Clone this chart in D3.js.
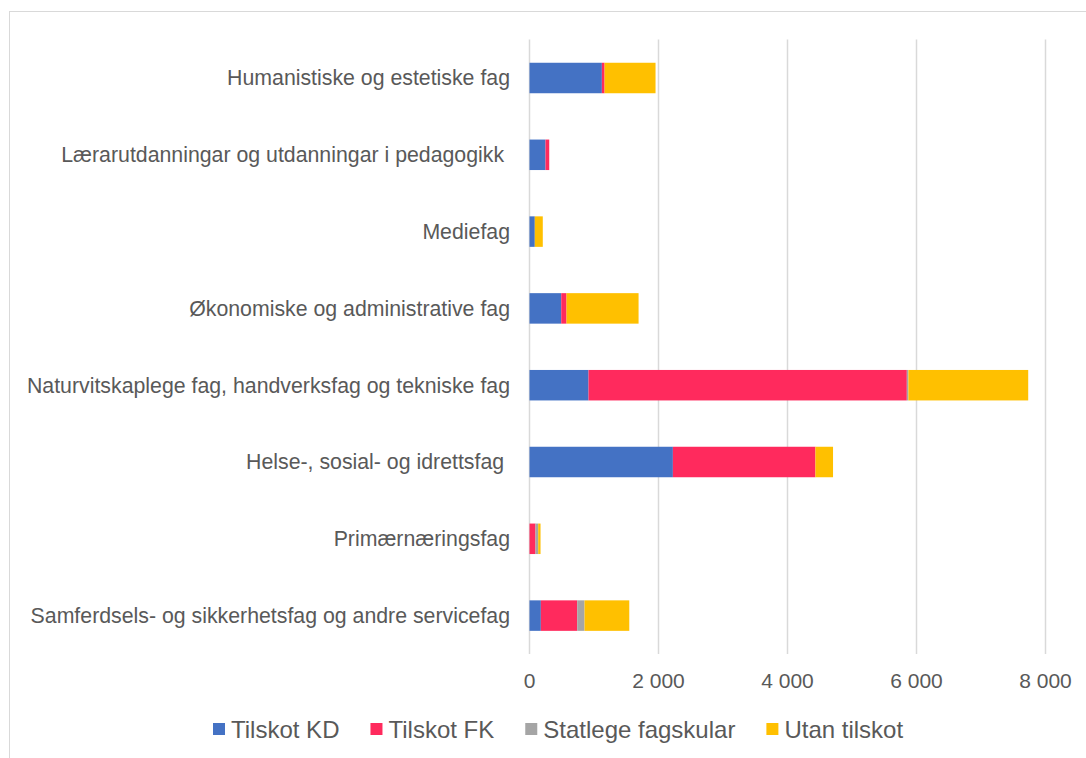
<!DOCTYPE html>
<html>
<head>
<meta charset="utf-8">
<script src="https://cdn.jsdelivr.net/npm/d3@7"></script>
<style>
  body { margin: 0; background: #fff; }
  text { font-family: "Liberation Sans", Arial, sans-serif; fill: #595959; white-space: pre; }
</style>
</head>
<body>
<svg class="chart" width="1086" height="758"></svg>
<script>
// categories top to bottom
const categories = [
  "Humanistiske og estetiske fag",
  "Lærarutdanningar og utdanningar i pedagogikk ",
  "Mediefag",
  "Økonomiske og administrative fag",
  "Naturvitskaplege fag, handverksfag og tekniske fag",
  "Helse-, sosial- og idrettsfag ",
  "Primærnæringsfag",
  "Samferdsels- og sikkerhetsfag og andre servicefag"
];
const seriesNames = ["Tilskot KD", "Tilskot FK", "Statlege fagskular", "Utan tilskot"];
const tilskotKD = [1122, 248, 82, 492, 915, 2223, 0, 176];
const tilskotFK = [42, 58, 0, 82, 4935, 2210, 93, 564];
const statlege = [0, 0, 0, 0, 25, 0, 42, 113];
const utanTilskot = [790, 0, 124, 1117, 1857, 273, 36, 694];
const tickValues = [0, 2000, 4000, 6000, 8000];
const colors = ["#4472C4", "#FF2A5D", "#A5A5A5", "#FFC000"];

const svg = d3.select("svg.chart");

// outer chart border
svg.append("rect")
  .attr("x", 9.5).attr("y", 11.5)
  .attr("width", 1100).attr("height", 800)
  .attr("fill", "none").attr("stroke", "#D9D9D9");

const rows = categories.map((c, i) => ({
  cat: c, s0: tilskotKD[i], s1: tilskotFK[i], s2: statlege[i], s3: utanTilskot[i]
}));
const stacked = d3.stack().keys(["s0", "s1", "s2", "s3"])(rows);

const x = d3.scaleLinear().domain([0, 8000]).range([529.5, 1045.5]);
const y = d3.scaleBand().domain(categories).range([39.6, 654])
  .paddingInner(0.603).paddingOuter(0.3015);

// gridlines
svg.append("g")
  .selectAll("line")
  .data(tickValues)
  .enter()
  .append("line")
  .attr("x1", d => x(d)).attr("x2", d => x(d))
  .attr("y1", 39.6).attr("y2", 654)
  .attr("stroke", "#D9D9D9").attr("stroke-width", 1.5);

// bars
svg.append("g")
  .selectAll("g")
  .data(stacked)
  .enter()
  .append("g")
  .attr("fill", (d, i) => colors[i])
  .selectAll("rect")
  .data(d => d)
  .enter()
  .append("rect")
  .attr("x", d => x(d[0]))
  .attr("y", d => y(d.data.cat))
  .attr("width", d => Math.max(0, x(d[1]) - x(d[0])))
  .attr("height", y.bandwidth());

// x tick labels
const fmt = v => d3.format(",")(v).replace(/,/g, " ");
svg.append("g")
  .selectAll("text")
  .data(tickValues)
  .enter()
  .append("text")
  .attr("x", d => x(d))
  .attr("y", 688)
  .attr("text-anchor", "middle")
  .attr("font-size", 21)
  .text(d => fmt(d));

// category labels
svg.append("g")
  .selectAll("text")
  .data(categories)
  .enter()
  .append("text")
  .attr("x", 510)
  .attr("y", d => y(d) + y.bandwidth() / 2)
  .attr("dy", "0.35em")
  .attr("text-anchor", "end")
  .attr("font-size", 21.3)
  .text(d => d);

// legend
const legend = svg.append("g");
let lx = 213;
seriesNames.forEach((name, i) => {
  legend.append("rect")
    .attr("x", lx).attr("y", 723)
    .attr("width", 12).attr("height", 12)
    .attr("fill", colors[i]);
  const t = legend.append("text")
    .attr("x", lx + 18).attr("y", 738)
    .attr("font-size", 24)
    .text(name);
  lx += 18 + t.node().getComputedTextLength() + 31;
});
</script>
</body>
</html>
